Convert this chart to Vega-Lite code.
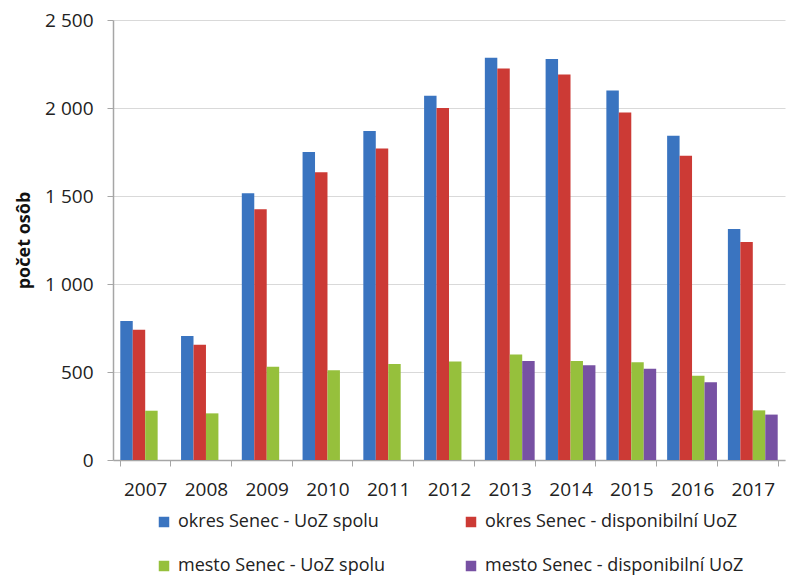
{
  "$schema": "https://vega.github.io/schema/vega-lite/v6.json",
  "width": 672,
  "height": 440,
  "autosize": "none",
  "padding": {"left": 113, "top": 20, "right": 11, "bottom": 119},
  "background": "white",
  "data": {
    "values": [
      {"rok": "2007", "seria": "okres Senec - UoZ spolu", "hodnota": 790},
      {"rok": "2007", "seria": "okres Senec - disponibilní UoZ", "hodnota": 740},
      {"rok": "2007", "seria": "mesto Senec - UoZ spolu", "hodnota": 280},
      {"rok": "2008", "seria": "okres Senec - UoZ spolu", "hodnota": 705},
      {"rok": "2008", "seria": "okres Senec - disponibilní UoZ", "hodnota": 655},
      {"rok": "2008", "seria": "mesto Senec - UoZ spolu", "hodnota": 265},
      {"rok": "2009", "seria": "okres Senec - UoZ spolu", "hodnota": 1515},
      {"rok": "2009", "seria": "okres Senec - disponibilní UoZ", "hodnota": 1425},
      {"rok": "2009", "seria": "mesto Senec - UoZ spolu", "hodnota": 530},
      {"rok": "2010", "seria": "okres Senec - UoZ spolu", "hodnota": 1750},
      {"rok": "2010", "seria": "okres Senec - disponibilní UoZ", "hodnota": 1635},
      {"rok": "2010", "seria": "mesto Senec - UoZ spolu", "hodnota": 510},
      {"rok": "2011", "seria": "okres Senec - UoZ spolu", "hodnota": 1870},
      {"rok": "2011", "seria": "okres Senec - disponibilní UoZ", "hodnota": 1770},
      {"rok": "2011", "seria": "mesto Senec - UoZ spolu", "hodnota": 545},
      {"rok": "2012", "seria": "okres Senec - UoZ spolu", "hodnota": 2070},
      {"rok": "2012", "seria": "okres Senec - disponibilní UoZ", "hodnota": 2000},
      {"rok": "2012", "seria": "mesto Senec - UoZ spolu", "hodnota": 560},
      {"rok": "2013", "seria": "okres Senec - UoZ spolu", "hodnota": 2285},
      {"rok": "2013", "seria": "okres Senec - disponibilní UoZ", "hodnota": 2225},
      {"rok": "2013", "seria": "mesto Senec - UoZ spolu", "hodnota": 600},
      {"rok": "2013", "seria": "mesto Senec - disponibilní UoZ", "hodnota": 562},
      {"rok": "2014", "seria": "okres Senec - UoZ spolu", "hodnota": 2278},
      {"rok": "2014", "seria": "okres Senec - disponibilní UoZ", "hodnota": 2190},
      {"rok": "2014", "seria": "mesto Senec - UoZ spolu", "hodnota": 562},
      {"rok": "2014", "seria": "mesto Senec - disponibilní UoZ", "hodnota": 538},
      {"rok": "2015", "seria": "okres Senec - UoZ spolu", "hodnota": 2100},
      {"rok": "2015", "seria": "okres Senec - disponibilní UoZ", "hodnota": 1975},
      {"rok": "2015", "seria": "mesto Senec - UoZ spolu", "hodnota": 555},
      {"rok": "2015", "seria": "mesto Senec - disponibilní UoZ", "hodnota": 518},
      {"rok": "2016", "seria": "okres Senec - UoZ spolu", "hodnota": 1842},
      {"rok": "2016", "seria": "okres Senec - disponibilní UoZ", "hodnota": 1728},
      {"rok": "2016", "seria": "mesto Senec - UoZ spolu", "hodnota": 478},
      {"rok": "2016", "seria": "mesto Senec - disponibilní UoZ", "hodnota": 442},
      {"rok": "2017", "seria": "okres Senec - UoZ spolu", "hodnota": 1312},
      {"rok": "2017", "seria": "okres Senec - disponibilní UoZ", "hodnota": 1238},
      {"rok": "2017", "seria": "mesto Senec - UoZ spolu", "hodnota": 282},
      {"rok": "2017", "seria": "mesto Senec - disponibilní UoZ", "hodnota": 258}
    ]
  },
  "mark": {"type": "bar"},
  "encoding": {
    "x": {
      "field": "rok",
      "type": "nominal",
      "scale": {"paddingInner": 0.18, "paddingOuter": 0.12},
      "axis": {
        "title": null,
        "labelAngle": 0,
        "labelFont": "Open Sans",
        "labelFontSize": 19,
        "labelColor": "#222222",
        "labelPadding": 14,
        "tickBand": "extent",
        "tickSize": 6,
        "tickColor": "#a6a6a6",
        "domainColor": "#a6a6a6",
        "domainWidth": 1.5,
        "grid": false
      }
    },
    "xOffset": {
      "field": "seria",
      "type": "nominal",
      "scale": {
        "domain": ["okres Senec - UoZ spolu", "okres Senec - disponibilní UoZ", "mesto Senec - UoZ spolu", "mesto Senec - disponibilní UoZ"],
        "paddingInner": 0
      }
    },
    "y": {
      "field": "hodnota",
      "type": "quantitative",
      "scale": {"domain": [0, 2500]},
      "axis": {
        "title": "počet osôb",
        "titleFont": "Open Sans",
        "titleFontSize": 18,
        "titleFontWeight": "bold",
        "titleColor": "#111111",
        "titlePadding": 11,
        "values": [0, 500, 1000, 1500, 2000, 2500],
        "labelExpr": "replace(format(datum.value, ','), ',', ' ')",
        "labelFont": "Open Sans",
        "labelFontSize": 19,
        "labelColor": "#222222",
        "labelPadding": 14,
        "tickSize": 6,
        "tickColor": "#a6a6a6",
        "domainColor": "#a6a6a6",
        "domainWidth": 1.5,
        "gridColor": "#d9d9d9",
        "gridWidth": 1.2
      }
    },
    "color": {
      "field": "seria",
      "type": "nominal",
      "scale": {
        "domain": ["okres Senec - UoZ spolu", "okres Senec - disponibilní UoZ", "mesto Senec - UoZ spolu", "mesto Senec - disponibilní UoZ"],
        "range": ["#3a74c0", "#cc3a35", "#96c03c", "#7751a3"]
      },
      "legend": {
        "title": null,
        "orient": "none",
        "legendX": 42,
        "legendY": 493,
        "direction": "horizontal",
        "columns": 2,
        "columnPadding": 76,
        "rowPadding": 26,
        "padding": 0,
        "symbolType": "square",
        "symbolSize": 110,
        "symbolStrokeWidth": 0,
        "labelFont": "Open Sans",
        "labelFontSize": 18,
        "labelColor": "#222222",
        "labelOffset": 5,
        "labelLimit": 400
      }
    }
  },
  "config": {
    "view": {"stroke": null},
    "font": "Open Sans"
  }
}
